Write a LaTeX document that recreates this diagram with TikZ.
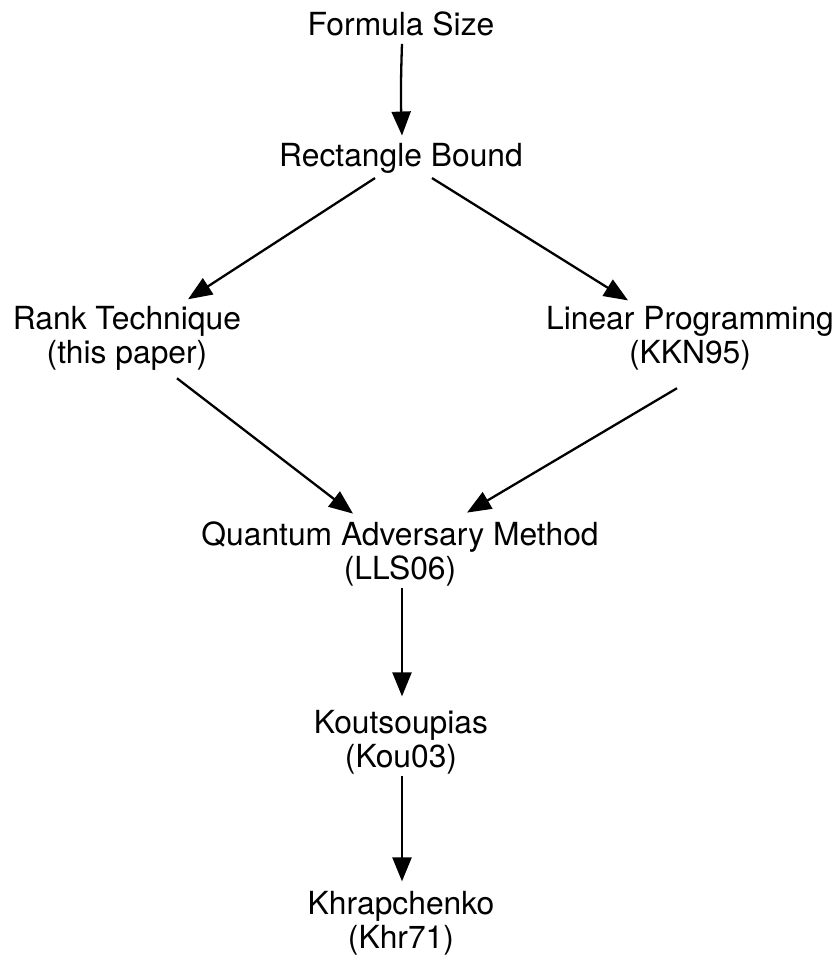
\documentclass[tikz,border=0pt]{standalone}
\usepackage{fontspec}
\setmainfont{TeX Gyre Heros}
\usetikzlibrary{arrows.meta,positioning}

\begin{document}
\begin{tikzpicture}[
    x=1pt, y=-1pt,
    term/.style={align=center, inner sep=0pt, font=\fontsize{31.8}{33.5}\selectfont},
    link/.style={-{Triangle[length=24pt,width=19pt]}, line width=2.3pt}
]
    \useasboundingbox (0,0) rectangle (839,963);

    \node[term] (size) at (401,23.5) {Formula Size};
    \node[term] (rect) at (401,158.8) {Rectangle Bound};
    \node[term] (rank) at (127,338.3) {Rank Technique\\(this paper)};
    \node[term] (lp) at (690,338.3) {Linear Programming\\(KKN95)};
    \node[term] (adv) at (400,553.8) {Quantum Adversary Method\\(LLS06)};
    \node[term] (kou) at (401,742.3) {Koutsoupias\\(Kou03)};
    \node[term] (khr) at (401,923.3) {Khrapchenko\\(Khr71)};

    \draw[link] ([xshift=1pt,yshift=-8pt]size.south) to[bend right=2] ([xshift=1pt,yshift=8pt]rect.north);
    \draw[link] ([xshift=-26pt,yshift=-4pt]rect.south) -- ([xshift=61pt,yshift=7pt]rank.north);
    \draw[link] ([xshift=31pt,yshift=-4pt]rect.south) -- ([xshift=-62pt,yshift=6pt]lp.north);
    \draw[link] ([xshift=50pt,yshift=-8pt]rank.south) -- ([xshift=-47pt,yshift=8pt]adv.north);
    \draw[link] ([xshift=-13pt,yshift=-18pt]lp.south) -- ([xshift=67pt,yshift=9pt]adv.north);
    \draw[link] ([xshift=2pt,yshift=-2pt]adv.south) -- ([xshift=1pt,yshift=14pt]kou.north);
    \draw[link] ([xshift=1pt,yshift=-2pt]kou.south) -- ([xshift=1pt,yshift=10pt]khr.north);
\end{tikzpicture}
\end{document}
